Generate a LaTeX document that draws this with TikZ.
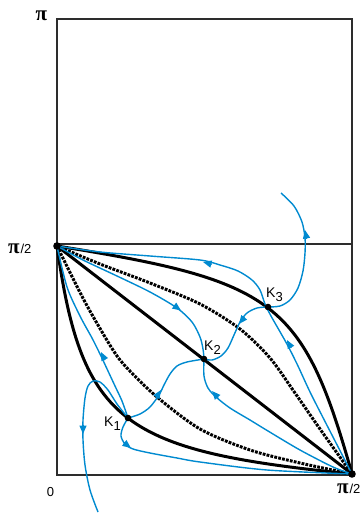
\documentclass[tikz,border=0pt]{standalone}
\usepackage{fontspec}
\setmainfont{Liberation Sans}
\newfontfamily\pifont{Liberation Serif}
\usetikzlibrary{arrows.meta}
\definecolor{flowblue}{RGB}{0,138,208}
\definecolor{framegray}{RGB}{45,45,45}
\newcommand{\bpi}{{\pifont\bfseries π}}
\begin{document}
\begin{tikzpicture}[x=1pt,y=-1pt,
  framestyle/.style={draw=framegray,line width=1.4pt},
  sepcurve/.style={draw=black,line width=3pt},
  sepdash/.style={draw=black,line width=3pt,dash pattern=on 2.8pt off 1.2pt},
  flowline/.style={draw=flowblue,line width=1.4pt},
  flowtip/.style={draw=flowblue,line width=1.4pt,-{Triangle[length=8.5pt,width=7pt]}},
  dotstyle/.style={fill=black},
  lbl/.style={inner sep=0pt}]
\useasboundingbox (0,0) rectangle (360,514);
% frame
\draw[framestyle] (57,19) rectangle (352,475);
\coordinate (L) at (57,244);
\coordinate (R) at (352,244);
\draw[framestyle] (L) -- (R);
% key points
\coordinate (A) at (57,246);
\coordinate (B) at (352,474);
\coordinate (K1) at (128,418);
\coordinate (K2) at (204,359);
\coordinate (K3) at (268,307);
\coordinate (E2) at (281,193);
\coordinate (E9) at (98,512);
% black separatrices
\draw[sepcurve] (A) -- (B);
\draw[sepcurve] (A) .. controls (275,281) and (303,300) .. (B);
\draw[sepcurve] (A) .. controls (82,424) and (123,451) .. (B);
% dashed curves
\draw[sepdash] plot[smooth] coordinates {(A) (100,264) (150,283) (200,304) (240,329) (270,358) (295,393) (320,429) (B)};
\draw[sepdash] plot[smooth] coordinates {(A) (85,302) (113,350) (128,369) (157,397) (200,429) (250,450) (300,463) (B)};
% blue trajectories
\draw[flowline] plot[smooth] coordinates {(B) (333,437) (311,394) (298,366) (288,346) (279,330) (271,316) (265,304) (260,290) (252,280) (238,271) (220,265) (200,260) (150,256) (100,252) (A)};
\draw[flowline] plot[smooth] coordinates {(K3) (280,306) (290,300) (298,288) (303,271) (305,253) (305,238) (302,222) (294,206) (E2)};
\draw[flowline] plot[smooth] coordinates {(K3) (257,308) (247,313) (240,322) (234,335) (228,348) (221,356) (212,360) (K2)};
\draw[flowline] plot[smooth] coordinates {(A) (83,260) (117,276) (150,292) (177,308) (192,322) (200,337) (203,349) (K2)};
\draw[flowline] plot[smooth] coordinates {(K2) (204,376) (208,388) (216,397) (230,408) (250,420) (268,431) (300,450) (333,467) (B)};
\draw[flowline] plot[smooth] coordinates {(K2) (187,362) (177,366) (170,374) (164,385) (159,395) (150,407) (140,414) (K1)};
\draw[flowline] plot[smooth] coordinates {(K1) (122,401) (115,386) (108,371) (100,354) (92,338) (80,316) (67,287) (A)};
\draw[flowline] plot[smooth] coordinates {(K1) (123,427) (121,436) (125,444) (133,449) (150,453) (177,458) (200,462) (267,470) (B)};
\draw[flowline] plot[smooth] coordinates {(K1) (117,404) (108,390) (100,382) (93,381) (88,386) (85,398) (83,420) (83,440) (85,465) (90,490) (E9)};
% arrowheads
\draw[flowtip] (291.2,347.9) -- (287,340);
\draw[flowtip] (211.7,264.2) -- (203,262);
\draw[flowtip] (306.6,238.8) -- (305,230);
\draw[flowtip] (244.5,316.9) -- (239,324);
\draw[flowtip] (173.7,305.3) -- (181,310.5);
\draw[flowtip] (218,397.8) -- (212,391);
\draw[flowtip] (156.1,397.6) -- (161,390);
\draw[flowtip] (104.9,360.1) -- (101,352);
\draw[flowtip] (123.8,442.6) -- (131,448);
\draw[flowtip] (83,425) -- (83,434);
% dots
\fill[dotstyle] (A) circle (3.8pt);
\fill[dotstyle] (B) circle (3.8pt);
\fill[dotstyle] (K1) circle (3.3pt);
\fill[dotstyle] (K2) circle (3.3pt);
\fill[dotstyle] (K3) circle (3.3pt);
% labels
\node[lbl,anchor=base] (ypi) at (41.5,20) {\fontsize{21}{21}\selectfont\bpi};
\node[lbl,anchor=base west] (yhalf) at (8,253) {\fontsize{21}{21}\selectfont\bpi\kern0.8pt\fontsize{13}{13}\selectfont/2};
\node[lbl,anchor=base west] (xhalf) at (337,493) {\fontsize{21}{21}\selectfont\bpi\kern0.8pt\fontsize{13}{13}\selectfont/2};
\node[lbl,anchor=base] (zero) at (50.5,496) {\fontsize{13}{13}\selectfont 0};
\node[lbl,anchor=base west] (k3l) at (266,297) {\fontsize{14}{14}\selectfont K\raisebox{-4pt}{\fontsize{13}{13}\selectfont 3}};
\node[lbl,anchor=base west] (k2l) at (204,350) {\fontsize{14}{14}\selectfont K\raisebox{-4pt}{\fontsize{13}{13}\selectfont 2}};
\node[lbl,anchor=base west] (k1l) at (104,426) {\fontsize{14}{14}\selectfont K\raisebox{-4pt}{\fontsize{13}{13}\selectfont 1}};
\end{tikzpicture}
\end{document}
